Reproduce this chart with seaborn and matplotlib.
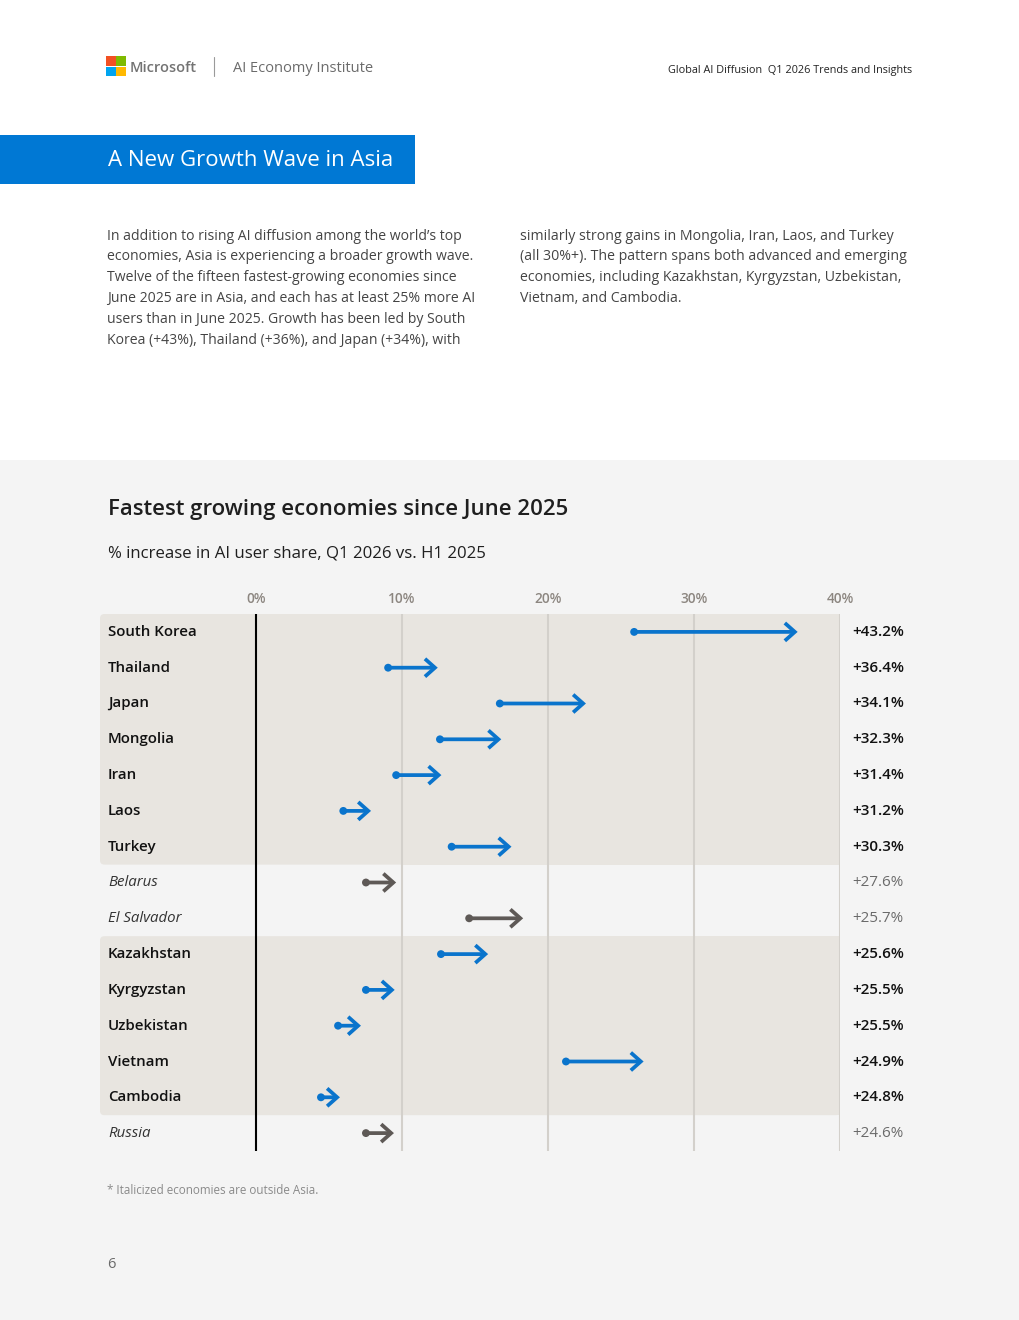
import matplotlib
matplotlib.use("Agg")
import matplotlib.pyplot as plt
from matplotlib.patches import Rectangle, FancyBboxPatch
import seaborn as sns
import pandas as pd

# ---------------- data ----------------
countries = ["South Korea", "Thailand", "Japan", "Mongolia", "Iran", "Laos", "Turkey",
             "Belarus", "El Salvador", "Kazakhstan", "Kyrgyzstan", "Uzbekistan",
             "Vietnam", "Cambodia", "Russia"]
in_asia = [True, True, True, True, True, True, True,
           False, False, True, True, True, True, True, False]
share_h1_2025 = [25.9, 9.05, 16.7, 12.6, 9.6, 5.98, 13.4,
                 7.53, 14.6, 12.67, 7.53, 5.62, 21.23, 4.45, 7.53]
share_q1_2026 = [37.1, 12.45, 22.6, 16.8, 12.7, 7.88, 17.5,
                 9.6, 18.3, 15.9, 9.5, 7.19, 26.55, 5.75, 9.45]
growth_labels = ["+43.2%", "+36.4%", "+34.1%", "+32.3%", "+31.4%", "+31.2%", "+30.3%",
                 "+27.6%", "+25.7%", "+25.6%", "+25.5%", "+25.5%", "+24.9%", "+24.8%", "+24.6%"]
x_ticks = [0, 10, 20, 30, 40]
x_tick_labels = ["0%", "10%", "20%", "30%", "40%"]

para_left = [
    "In addition to rising AI diffusion among the world\u2019s top",
    "economies, Asia is experiencing a broader growth wave.",
    "Twelve of the fifteen fastest-growing economies since",
    "June 2025 are in Asia, and each has at least 25% more AI",
    "users than in June 2025. Growth has been led by South",
    "Korea (+43%), Thailand (+36%), and Japan (+34%), with",
]
para_right = [
    "similarly strong gains in Mongolia, Iran, Laos, and Turkey",
    "(all 30%+). The pattern spans both advanced and emerging",
    "economies, including Kazakhstan, Kyrgyzstan, Uzbekistan,",
    "Vietnam, and Cambodia.",
]

df = pd.DataFrame({
    "country": countries,
    "h1": share_h1_2025,
    "q1": share_q1_2026,
    "region": ["Asia" if a else "Other" for a in in_asia],
})

# ---------------- style ----------------
sns.set_theme(style="white")
plt.rcParams["font.family"] = ["Open Sans", "DejaVu Sans"]

BLUE = "#0A74CC"
GREY_ARROW = "#5E5956"
BAND = "#E8E5E0"
PAGE_BG = "#F4F4F4"

W, H = 1020, 1320
fig = plt.figure(figsize=(W / 100, H / 100), dpi=100)
fig.patch.set_facecolor("white")


def fx(x):
    return x / W


def fy(y):
    return 1 - y / H


# lower grey page section
fig.patches.append(Rectangle((0, 0), 1, fy(460), transform=fig.transFigure,
                             facecolor=PAGE_BG, edgecolor="none", zorder=-10))

# Microsoft logo squares
sq = 9.5
for (x0, y0, c) in [(106, 56, "#F25022"), (116.5, 56, "#7FBA00"),
                    (106, 66.5, "#00A4EF"), (116.5, 66.5, "#FFB900")]:
    fig.patches.append(Rectangle((fx(x0), fy(y0 + sq)), sq / W, sq / H,
                                 transform=fig.transFigure, facecolor=c,
                                 edgecolor="none", zorder=-5))
fig.text(fx(130), fy(68), "Microsoft", fontsize=10.5, fontweight="semibold",
         color="#737373", va="center", ha="left")
fig.lines.append(plt.Line2D([fx(214), fx(214)], [fy(57), fy(76)],
                            transform=fig.transFigure, color="#9a9a9a", lw=0.8))
fig.text(fx(233), fy(68), "AI Economy Institute", fontsize=10.5, color="#6B6B6B",
         va="center", ha="left")
fig.text(fx(912), fy(70), "Global AI Diffusion  Q1 2026 Trends and Insights",
         fontsize=7.8, color="#222222", va="center", ha="right")

# blue header bar
fig.patches.append(Rectangle((0, fy(184)), fx(415), (184 - 135) / H,
                             transform=fig.transFigure, facecolor="#0078D4",
                             edgecolor="none", zorder=-5))
fig.text(fx(108), fy(161), "A New Growth Wave in Asia", fontsize=16,
         color="white", va="center", ha="left", zorder=3)

# paragraphs
for i, line in enumerate(para_left):
    fig.text(fx(107), fy(236 + i * 20.8), line, fontsize=10.1, color="#444444",
             va="center", ha="left")
for i, line in enumerate(para_right):
    fig.text(fx(520), fy(236 + i * 20.8), line, fontsize=10.2, color="#444444",
             va="center", ha="left")

# chart title / subtitle
fig.text(fx(108), fy(510), "Fastest growing economies since June 2025",
         fontsize=15.9, fontweight="semibold", color="#1F1F1F", va="center", ha="left")
fig.text(fx(108), fy(554), "% increase in AI user share, Q1 2026 vs. H1 2025",
         fontsize=12.1, color="#1F1F1F", va="center", ha="left")

# footnote & page number
fig.text(fx(107), fy(1190), "* Italicized economies are outside Asia.",
         fontsize=8.4, color="#8A8A8A", va="center", ha="left")
fig.text(fx(107), fy(1264), "6", fontsize=10.5, color="#6A6A6A",
         va="center", ha="left")

# ---------------- chart axes ----------------
ax_left, ax_right, ax_top, ax_bottom = 100, 840, 614, 1151
ax = fig.add_axes([fx(ax_left), fy(ax_bottom), (ax_right - ax_left) / W,
                   (ax_bottom - ax_top) / H])
ax.patch.set_alpha(0)
px_per_pct = (840 - 256) / 40.0
xmin = (ax_left - 256) / px_per_pct
n = len(countries)

sns.scatterplot(data=df, x="h1", y="country", hue="region",
                palette={"Asia": BLUE, "Other": GREY_ARROW}, s=32,
                edgecolor="none", legend=False, ax=ax, zorder=5)

ax.set_xlim(xmin, 40)
ax.set_ylim(n - 0.5, -0.5)

# bands behind Asian groups
row_h_px = (ax_bottom - ax_top) / n
aspect = (1 / row_h_px) / (1 / px_per_pct)
groups = []
start = None
for i, a in enumerate(in_asia + [False]):
    if a and start is None:
        start = i
    if not a and start is not None:
        groups.append((start, i - 1))
        start = None
for (a0, a1) in groups:
    y0 = a0 - 0.5
    hgt = a1 - a0 + 1
    ax.add_patch(FancyBboxPatch((xmin, y0), 40 - xmin, hgt,
                                boxstyle="round,pad=0,rounding_size=0.3",
                                mutation_aspect=aspect, facecolor=BAND,
                                edgecolor="none", zorder=0, clip_on=False))
    ax.add_patch(Rectangle((10, y0), 30, hgt, facecolor=BAND, edgecolor="none",
                           zorder=0, clip_on=False))

# gridlines
for t in x_ticks[1:]:
    ax.axvline(t, color="#D3D0CB", lw=1.5, zorder=1)
ax.axvline(0, color="black", lw=1.5, zorder=2)

# arrows
for i, row in df.iterrows():
    col = BLUE if row["region"] == "Asia" else GREY_ARROW
    ax.annotate("", xy=(row["q1"], i), xytext=(row["h1"], i),
                arrowprops=dict(arrowstyle="->,head_length=0.36,head_width=0.32",
                                color=col, lw=2.7, shrinkA=0, shrinkB=0,
                                mutation_scale=20, joinstyle="miter",
                                capstyle="butt"),
                zorder=4)

# labels
lab_x = xmin + 8 / px_per_pct
pct_x = 40 + 12 / px_per_pct
for i, (c, a, g) in enumerate(zip(countries, in_asia, growth_labels)):
    if a:
        ax.text(lab_x, i, c, fontsize=10.8, fontweight="semibold", color="#111111",
                va="center", ha="left", zorder=6)
        ax.text(pct_x, i, g, fontsize=10.9, fontweight="semibold", color="#111111",
                va="center", ha="left", clip_on=False)
    else:
        ax.text(lab_x, i, c, fontsize=10.8, fontstyle="italic", color="#333333",
                va="center", ha="left", zorder=6)
        ax.text(pct_x, i, g, fontsize=10.9, color="#6A6A6A",
                va="center", ha="left", clip_on=False)

ax.set_xticks(x_ticks)
ax.set_xticklabels(x_tick_labels)
ax.xaxis.tick_top()
ax.tick_params(axis="x", length=0, pad=6, labelsize=9.8, labelcolor="#8C8680")
for lbl in ax.get_xticklabels():
    lbl.set_fontweight("semibold")
ax.set_yticks([])
ax.set_xlabel("")
ax.set_ylabel("")
for s in ax.spines.values():
    s.set_visible(False)

fig.savefig("out.png", dpi=100, facecolor=fig.get_facecolor())
